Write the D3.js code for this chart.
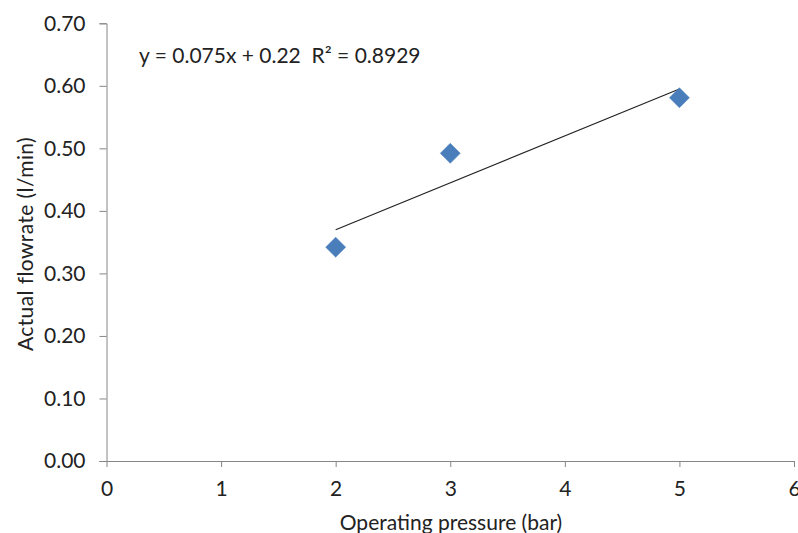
<!DOCTYPE html>
<html>
<head>
<meta charset="utf-8">
<script src="https://cdn.jsdelivr.net/npm/d3@7"></script>
<style>
  html, body { margin: 0; padding: 0; background: #fff; }
  svg { display: block; font-family: Lato, "Open Sans", sans-serif; }
</style>
</head>
<body>
<svg id="chart" width="798" height="533"></svg>
<script>
const pressure = [2, 3, 5];
const flowrate = [0.342, 0.492, 0.581];
const xTicks = [0, 1, 2, 3, 4, 5, 6];
const yTicks = [0, 0.1, 0.2, 0.3, 0.4, 0.5, 0.6, 0.7];
const trendSlope = 0.075;
const trendIntercept = 0.22;
const equationLabel = "y = 0.075x + 0.22\u00A0\u00A0R² = 0.8929";
const xTitle = "Operating pressure (bar)";
const yTitle = "Actual flowrate (l/min)";

const svg = d3.select("#chart");
const x = d3.scaleLinear().domain([0, 6]).range([106.5, 794]);
const y = d3.scaleLinear().domain([0, 0.7]).range([461, 23.3]);
const axisColor = "#868686";
const fontSize = 21;

// Y axis
const yAxis = svg.append("g").attr("transform", `translate(${x(0)},0)`)
  .call(d3.axisLeft(y).tickValues(yTicks).tickFormat(d3.format(".2f")).tickSize(7).tickPadding(14));
// X axis
const xAxis = svg.append("g").attr("transform", `translate(0,${y(0)})`)
  .call(d3.axisBottom(x).tickValues(xTicks).tickFormat(d3.format("d")).tickSize(6).tickPadding(14));

[yAxis, xAxis].forEach(g => {
  g.select(".domain").attr("stroke", axisColor).attr("stroke-width", 1);
  g.selectAll(".tick line").attr("stroke", axisColor);
  g.selectAll(".tick text").attr("fill", "#222").style("font-size", fontSize + "px").style("font-family", "Lato, sans-serif");
});
xAxis.select(".domain").attr("d", `M${x(0) - 7},0.5H${x(6)}`);

// Trendline
const tx = [d3.min(pressure), d3.max(pressure)];
svg.append("line")
  .attr("x1", x(tx[0])).attr("y1", y(trendSlope * tx[0] + trendIntercept))
  .attr("x2", x(tx[1])).attr("y2", y(trendSlope * tx[1] + trendIntercept))
  .attr("stroke", "#222").attr("stroke-width", 1.1);

// Points (diamonds)
const diamond = d3.symbol().type(d3.symbolSquare).size(200);
svg.append("g").selectAll("path")
  .data(pressure.map((p, i) => ({ p, f: flowrate[i] })))
  .join("path")
  .attr("d", diamond)
  .attr("transform", d => `translate(${x(d.p)},${y(d.f)}) rotate(45)`)
  .attr("fill", "#4A7EBB")
  .attr("stroke", "#4A7EBB").attr("stroke-width", 0.5);

// Equation
svg.append("text").attr("x", 139).attr("y", 63)
  .attr("fill", "#222").style("font-size", fontSize + "px")
  .text(equationLabel);

// Axis titles
svg.append("text").attr("x", 451).attr("y", 530).attr("text-anchor", "middle")
  .attr("fill", "#222").style("font-size", fontSize + "px")
  .text(xTitle);
svg.append("text").attr("transform", "translate(33,244) rotate(-90)").attr("text-anchor", "middle")
  .attr("fill", "#222").style("font-size", fontSize + "px").style("letter-spacing", "0.4px")
  .text(yTitle);
</script>
</body>
</html>
